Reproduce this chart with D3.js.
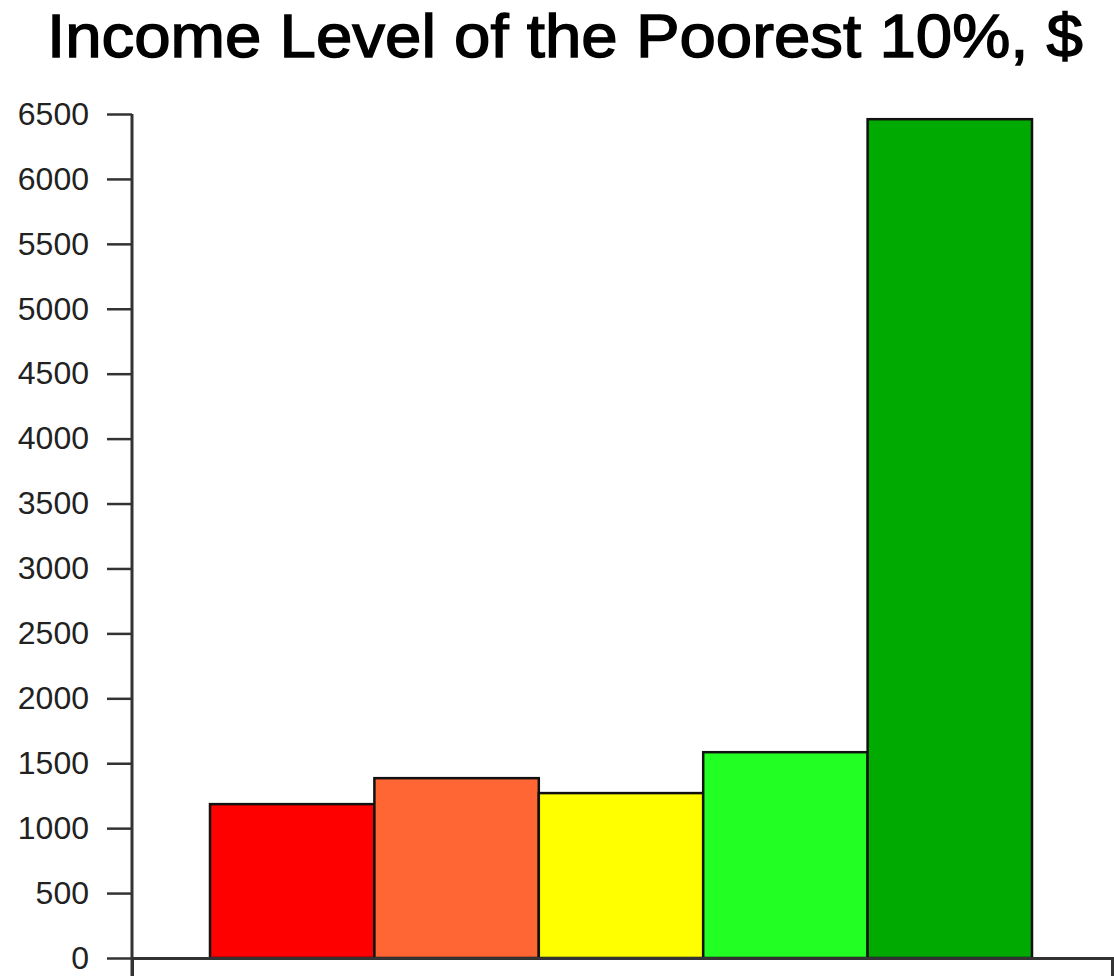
<!DOCTYPE html>
<html>
<head>
<meta charset="utf-8">
<script src="https://cdn.jsdelivr.net/npm/d3@7/dist/d3.min.js"></script>
<style>
  html, body { margin: 0; padding: 0; background: #fff; }
  svg { display: block; }
  text { font-family: "Liberation Sans", Arial, sans-serif; }
</style>
</head>
<body>
<svg id="chart" width="1114" height="976"></svg>
<script>
// Income groups, left to right
const categories = ["Group 1", "Group 2", "Group 3", "Group 4", "Group 5"];
// Income level of the poorest 10%, in dollars
const incomes = [1185, 1385, 1270, 1585, 6460];
const barColors = ["#ff0000", "#ff6633", "#ffff00", "#22ff22", "#00aa00"];
const yTicks = [0, 500, 1000, 1500, 2000, 2500, 3000, 3500, 4000, 4500, 5000, 5500, 6000, 6500];
const titleText = "Income Level of the Poorest 10%, $";

const svg = d3.select("#chart");

const y = d3.scaleLinear().domain([0, 6500]).range([958, 114]);
const x = d3.scaleBand().domain(categories).range([210, 1032]).padding(0);

// Title: regular face, thickened slightly with a thin outline
svg.append("text")
  .attr("x", 47)
  .attr("y", 57)
  .attr("font-size", 62)
  .attr("textLength", 1036)
  .attr("lengthAdjust", "spacingAndGlyphs")
  .attr("fill", "#000")
  .attr("stroke", "#000")
  .attr("stroke-width", 1.4)
  .text(titleText);

// Bars
svg.append("g")
  .selectAll("rect")
  .data(categories)
  .join("rect")
  .attr("x", d => x(d))
  .attr("y", (d, i) => y(incomes[i]))
  .attr("width", x.bandwidth())
  .attr("height", (d, i) => y(0) - y(incomes[i]))
  .attr("fill", (d, i) => barColors[i])
  .attr("stroke", "#111")
  .attr("stroke-width", 2.5);

// Y axis
const yAxis = d3.axisLeft(y)
  .tickValues(yTicks)
  .tickFormat(d3.format("d"))
  .tickSize(25)
  .tickSizeOuter(0)
  .tickPadding(18);
const gy = svg.append("g").attr("transform", "translate(132,0)").call(yAxis);
gy.select(".domain").remove();
gy.selectAll(".tick line").attr("stroke", "#333").attr("stroke-width", 2.5);
gy.selectAll(".tick text")
  .attr("font-size", 32)
  .attr("fill", "#222")
  .attr("font-family", "\"Liberation Sans\", Arial, sans-serif");
// Vertical axis line, running a little past zero
gy.append("line")
  .attr("x1", 0).attr("x2", 0)
  .attr("y1", y(6500)).attr("y2", 976)
  .attr("stroke", "#333").attr("stroke-width", 3);

// X axis baseline
const xLine = d3.scaleLinear().domain([0, 1]).range([132, 1112]);
const xAxis = d3.axisBottom(xLine).tickValues([]).tickSizeOuter(20);
const gx = svg.append("g").attr("transform", `translate(0,${y(0)})`).call(xAxis);
gx.select(".domain").attr("stroke", "#333").attr("stroke-width", 3).attr("fill", "none");
</script>
</body>
</html>
